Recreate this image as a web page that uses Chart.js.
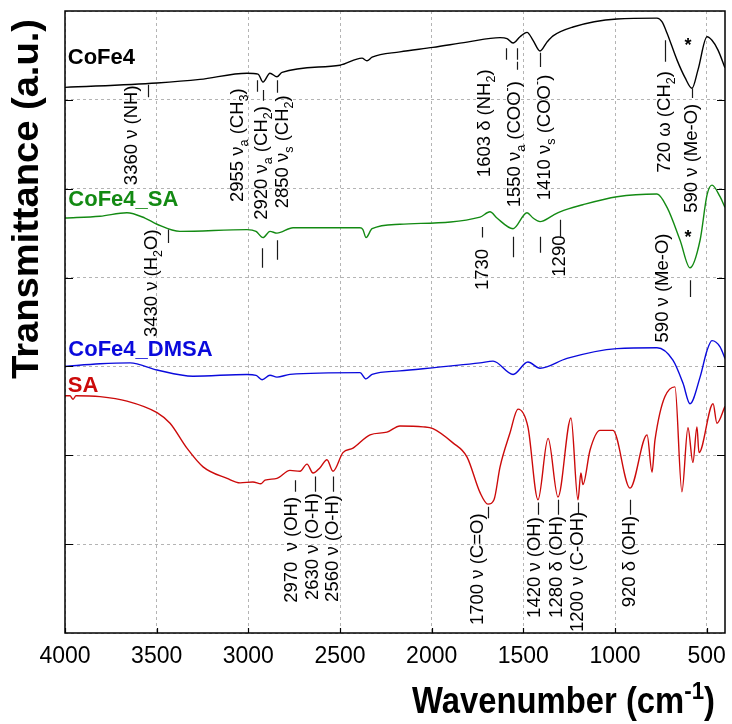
<!DOCTYPE html>
<html>
<head>
<meta charset="utf-8">
<script src="https://cdn.jsdelivr.net/npm/chart.js@4.4.1/dist/chart.umd.min.js"></script>
<style>
  html, body { margin: 0; padding: 0; background: #fff; }
  #wrap { width: 732px; height: 724px; position: relative; }
</style>
</head>
<body>
<div id="wrap"><canvas id="ftir"></canvas></div>
<script>
// FTIR spectra: wavenumber (cm-1) and transmittance (a.u., stacked with offsets)
const coFe4Wn = [4000, 3498, 3264, 3007, 2947, 2920, 2882, 2844, 2816, 2500, 2380, 2353, 2325, 2173, 1993, 1807, 1627, 1589, 1556, 1518, 1480, 1447, 1409, 1371, 1338, 1229, 989, 771, 744, 716, 662, 618, 580, 547, 498, 471, 438, 400];
const coFe4T  = [61.4, 61.9, 62.3, 63.0, 62.9, 62.0, 63.0, 62.6, 63.1, 63.9, 64.7, 64.4, 64.8, 65.4, 65.9, 66.5, 67.0, 66.9, 66.4, 67.1, 67.6, 66.7, 65.5, 66.5, 67.2, 68.2, 69.1, 69.2, 68.8, 67.5, 64.5, 62.5, 61.3, 63.4, 67.1, 66.7, 65.6, 63.6];

const coFe4SaWn = [4000, 3809, 3662, 3564, 3498, 3373, 3007, 2958, 2920, 2882, 2844, 2756, 2391, 2375, 2358, 2325, 2173, 1736, 1682, 1644, 1556, 1480, 1447, 1409, 1338, 1300, 1175, 989, 771, 716, 645, 591, 536, 498, 471, 427, 400];
const coFe4SaT  = [46.7, 46.9, 47.3, 46.7, 46.0, 45.2, 45.4, 45.2, 44.5, 45.2, 45.0, 45.6, 45.6, 45.4, 44.5, 45.5, 46.0, 46.8, 47.4, 46.7, 45.5, 47.3, 46.7, 46.3, 47.0, 47.4, 48.2, 49.1, 49.4, 47.9, 44.2, 41.1, 44.2, 49.3, 50.4, 49.1, 47.9];

const coFe4DmsaWn = [4000, 3809, 3645, 3498, 3302, 3007, 2958, 2925, 2882, 2844, 2773, 2391, 2358, 2325, 2173, 1736, 1665, 1556, 1475, 1409, 1262, 989, 771, 684, 629, 591, 536, 498, 471, 427, 400];
const coFe4DmsaT  = [30.0, 30.3, 30.4, 29.6, 28.9, 29.1, 29.0, 28.5, 29.0, 28.8, 29.1, 29.3, 28.6, 29.1, 29.5, 30.4, 30.6, 29.1, 30.5, 29.8, 30.9, 32.0, 32.1, 30.7, 28.1, 25.8, 28.8, 31.8, 32.9, 32.2, 30.9];

const saWn = [4000, 3973, 3956, 3940, 3809, 3662, 3498, 3427, 3335, 3247, 3116, 3045, 2975, 2931, 2909, 2844, 2773, 2718, 2680, 2647, 2609, 2571, 2538, 2484, 2429, 2336, 2244, 2173, 2047, 1993, 1884, 1807, 1736, 1693, 1660, 1627, 1573, 1529, 1475, 1420, 1365, 1311, 1240, 1202, 1186, 1175, 1136, 1082, 1011, 918, 825, 798, 782, 673, 635, 602, 575, 553, 542, 465, 444, 400];
const saT  = [26.7, 26.7, 26.3, 26.7, 26.6, 26.1, 24.8, 23.6, 20.8, 18.7, 17.4, 16.9, 17.0, 16.8, 17.2, 17.4, 18.3, 18.2, 19.0, 18.0, 18.6, 19.5, 18.2, 20.3, 20.8, 22.3, 22.6, 23.3, 23.2, 23.0, 21.4, 19.8, 15.8, 14.5, 15.0, 18.7, 22.5, 25.2, 23.2, 15.0, 21.9, 15.3, 24.2, 15.0, 18.0, 16.7, 20.6, 22.8, 22.8, 16.3, 22.3, 18.1, 21.7, 27.7, 15.9, 23.1, 19.2, 23.2, 20.3, 25.8, 23.6, 25.5];

const xTicks = [500, 1000, 1500, 2000, 2500, 3000, 3500, 4000];
const yGrid = [0, 10, 20, 30, 40, 50, 60, 70];

// sample names written inside the plot
const sampleNames = [
  { text: 'CoFe4', color: '#000000', wn: 3985, t: 64.7 },
  { text: 'CoFe4_SA', color: '#138a13', wn: 3982, t: 48.7 },
  { text: 'CoFe4_DMSA', color: '#0a0adc', wn: 3982, t: 31.8 },
  { text: 'SA', color: '#cc0a0a', wn: 3985, t: 27.8 }
];

// band assignments, '_' = subscript, '^' = superscript; t = lower end of the text
const bandLabels = [
  { wn: 3635, t: 50.4, parts: ['3360 ν (NH)'] },
  { wn: 3056, t: 48.5, parts: ['2955 ν', '_a', ' (CH', '_3', ')'] },
  { wn: 2925, t: 46.5, parts: ['2920 ν', '_a', ' (CH', '_2', ')'] },
  { wn: 2811, t: 47.8, parts: ['2850 ν', '_s', ' (CH', '_2', ')'] },
  { wn: 1709, t: 51.3, parts: ['1603 δ (NH', '_2', ')'] },
  { wn: 1545, t: 47.9, parts: ['1550 ν', '_a', ' (COO', '^-', ')'] },
  { wn: 1382, t: 48.7, parts: ['1410 ν', '_s', ' (COO', '^-', ')'] },
  { wn: 727, t: 51.8, parts: ['720 ω (CH', '_2', ')'] },
  { wn: 580, t: 47.3, parts: ['590 ν (Me-O)'] },
  { wn: 3525, t: 33.3, parts: ['3430 ν (H', '_2', 'O)'] },
  { wn: 1720, t: 38.6, parts: ['1730'] },
  { wn: 1300, t: 40.1, parts: ['1290'] },
  { wn: 738, t: 32.7, parts: ['590 ν (Me-O)'] },
  { wn: 2762, t: 3.4, parts: ['2970  ν (OH)'] },
  { wn: 2647, t: 3.7, parts: ['2630 ν (O-H)'] },
  { wn: 2538, t: 3.5, parts: ['2560 ν (O-H)'] },
  { wn: 1747, t: 0.9, parts: ['1700 ν (C=O)'] },
  { wn: 1436, t: 1.7, parts: ['1420 ν (OH)'] },
  { wn: 1316, t: 1.7, parts: ['1280 δ (OH)'] },
  { wn: 1202, t: 0.1, parts: ['1200 ν (C-OH)'] },
  { wn: 918, t: 2.9, parts: ['920 δ (OH)'] }
];

// short vertical markers pointing at the bands
const bandMarks = [
  { wn: 3547, from: 61.7, to: 60.3 },
  { wn: 2953, from: 62.2, to: 60.9 },
  { wn: 2920, from: 61.1, to: 59.9 },
  { wn: 2844, from: 62.2, to: 60.8 },
  { wn: 1595, from: 65.8, to: 64.5 },
  { wn: 1535, from: 65.8, to: 64.5 },
  { wn: 1535, from: 64.3, to: 63.4 },
  { wn: 1409, from: 65.3, to: 63.7 },
  { wn: 727, from: 66.7, to: 64.3 },
  { wn: 580, from: 61.3, to: 60.2 },
  { wn: 3438, from: 45.4, to: 43.9 },
  { wn: 2925, from: 43.3, to: 41.1 },
  { wn: 2844, from: 44.2, to: 42.0 },
  { wn: 1725, from: 45.7, to: 44.5 },
  { wn: 1556, from: 44.6, to: 42.3 },
  { wn: 1409, from: 44.6, to: 42.8 },
  { wn: 1300, from: 46.5, to: 44.6 },
  { wn: 591, from: 39.7, to: 37.8 },
  { wn: 2745, from: 17.2, to: 15.9 },
  { wn: 2636, from: 17.6, to: 15.9 },
  { wn: 2538, from: 17.6, to: 15.9 },
  { wn: 1693, from: 14.2, to: 12.9 },
  { wn: 1420, from: 14.7, to: 13.3 },
  { wn: 1311, from: 15.0, to: 13.3 },
  { wn: 1202, from: 14.7, to: 13.5 },
  { wn: 918, from: 15.0, to: 13.3 }
];

const starMarks = [
  { wn: 602, t: 66.4 },
  { wn: 602, t: 44.8 }
];

const FONT = "'Liberation Sans', Arial, Helvetica, sans-serif";

function toPoints(wn, t) {
  return wn.map((w, i) => ({ x: w, y: t[i] }));
}

// draws text made of normal / sub / sup pieces starting at x = 0, returns width
function drawRich(ctx, parts, size, weight, measureOnly) {
  let x = 0;
  parts.forEach(p => {
    let s = size, dy = 0, txt = p;
    if (p[0] === '_') { s = size * 0.68; dy = size * 0.34; txt = p.slice(1); }
    else if (p[0] === '^') { s = size * 0.68; dy = -size * 0.4; txt = p.slice(1); }
    ctx.font = `${weight} ${s}px ${FONT}`;
    if (!measureOnly) ctx.fillText(txt, x, dy);
    x += ctx.measureText(txt).width;
  });
  return x;
}

const decorPlugin = {
  id: 'decor',
  afterDraw(chart) {
    const ctx = chart.ctx;
    const xs = chart.scales.x, ys = chart.scales.y;
    const a = chart.chartArea;

    ctx.save();
    // frame and inward ticks
    ctx.strokeStyle = '#000';
    ctx.lineWidth = 1.5;
    ctx.strokeRect(a.left, a.top, a.right - a.left, a.bottom - a.top);
    ctx.lineWidth = 1.2;
    ctx.beginPath();
    yGrid.slice(1, -1).forEach(v => {
      const y = Math.round(ys.getPixelForValue(v)) + 0.5;
      ctx.moveTo(a.left, y); ctx.lineTo(a.left + 8, y);
      ctx.moveTo(a.right, y); ctx.lineTo(a.right - 8, y);
    });
    xTicks.forEach(v => {
      const x = Math.round(xs.getPixelForValue(v)) + 0.5;
      ctx.moveTo(x, a.bottom); ctx.lineTo(x, a.bottom - 5);
    });
    ctx.stroke();

    // sample names
    ctx.textBaseline = 'middle';
    ctx.textAlign = 'left';
    sampleNames.forEach(n => {
      ctx.fillStyle = n.color;
      ctx.font = `bold 22px ${FONT}`;
      ctx.fillText(n.text, xs.getPixelForValue(n.wn), ys.getPixelForValue(n.t));
    });

    // band labels, rotated to read upwards
    ctx.fillStyle = '#000';
    bandLabels.forEach(l => {
      ctx.save();
      ctx.translate(xs.getPixelForValue(l.wn), ys.getPixelForValue(l.t));
      ctx.rotate(-Math.PI / 2);
      drawRich(ctx, l.parts, 18.5, 'normal', false);
      ctx.restore();
    });

    ctx.strokeStyle = '#1a1a1a';
    ctx.lineWidth = 1.2;
    ctx.beginPath();
    bandMarks.forEach(m => {
      const x = Math.round(xs.getPixelForValue(m.wn)) + 0.5;
      ctx.moveTo(x, ys.getPixelForValue(m.from));
      ctx.lineTo(x, ys.getPixelForValue(m.to));
    });
    ctx.stroke();

    ctx.textAlign = 'center';
    ctx.font = `bold 18px ${FONT}`;
    starMarks.forEach(s => {
      ctx.fillText('*', xs.getPixelForValue(s.wn), ys.getPixelForValue(s.t) + 3);
    });

    // axis titles
    ctx.textAlign = 'left';
    ctx.textBaseline = 'middle';
    ctx.save();
    ctx.translate(28, 199);
    ctx.rotate(-Math.PI / 2);
    ctx.font = `bold 36px ${FONT}`;
    const yt = 'Transmittance (a.u.)';
    const yw = ctx.measureText(yt).width;
    ctx.scale(360 / yw, 1);
    ctx.textAlign = 'center';
    ctx.fillText(yt, 0, 0);
    ctx.restore();

    ctx.save();
    ctx.textBaseline = 'alphabetic';
    const xParts = ['Wavenumber (cm', '^-1', ')'];
    const xw = drawRich(ctx, xParts, 36, 'bold', true);
    ctx.translate(412, 713);
    ctx.scale(303 / xw, 1);
    drawRich(ctx, xParts, 36, 'bold', false);
    ctx.restore();

    ctx.restore();
  }
};

const seriesStyle = {
  borderWidth: 1.4,
  pointRadius: 0,
  cubicInterpolationMode: 'monotone',
  fill: false
};

new Chart(document.getElementById('ftir'), {
  type: 'line',
  data: {
    datasets: [
      { label: 'CoFe4', data: toPoints(coFe4Wn, coFe4T), borderColor: '#000000', ...seriesStyle },
      { label: 'CoFe4_SA', data: toPoints(coFe4SaWn, coFe4SaT), borderColor: '#138a13', ...seriesStyle },
      { label: 'CoFe4_DMSA', data: toPoints(coFe4DmsaWn, coFe4DmsaT), borderColor: '#0a0adc', ...seriesStyle },
      { label: 'SA', data: toPoints(saWn, saT), borderColor: '#cc0a0a', ...seriesStyle }
    ]
  },
  options: {
    responsive: true,
    maintainAspectRatio: false,
    animation: false,
    layout: { padding: { top: 11, right: 7, left: 0, bottom: 0 } },
    plugins: {
      legend: { display: false },
      tooltip: { enabled: false }
    },
    scales: {
      x: {
        type: 'linear',
        reverse: true,
        min: 400,
        max: 4000,
        afterBuildTicks: (scale) => { scale.ticks = xTicks.map(v => ({ value: v })); },
        afterFit: (scale) => { scale.height = 91; },
        grid: { color: '#b4b4b4', drawTicks: false, lineWidth: 1 },
        border: { display: false, dash: [3, 3] },
        ticks: {
          padding: 10,
          color: '#000',
          font: { family: FONT, size: 23 },
          maxRotation: 0,
          callback: (value) => String(value)
        }
      },
      y: {
        min: 0,
        max: 70,
        afterBuildTicks: (scale) => { scale.ticks = yGrid.map(v => ({ value: v })); },
        afterFit: (scale) => { scale.width = 65; },
        grid: { color: '#b4b4b4', drawTicks: false, lineWidth: 1 },
        border: { display: false, dash: [3, 3] },
        ticks: { display: false }
      }
    }
  },
  plugins: [decorPlugin]
});
</script>
</body>
</html>
